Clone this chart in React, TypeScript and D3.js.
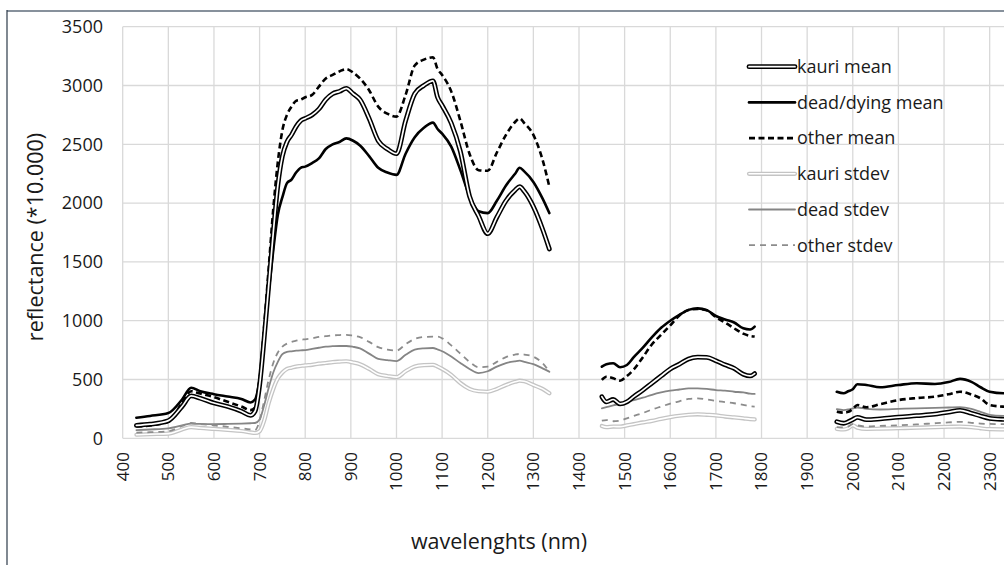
import React from "react";
import * as d3 from "d3";

// ---------- data ----------
const xGrid = [400, 500, 600, 700, 800, 900, 1000, 1100, 1200, 1300, 1400, 1500, 1600, 1700, 1800, 1900, 2000, 2100, 2200, 2300, 2400];
const xTickLabels = [400, 500, 600, 700, 800, 900, 1000, 1100, 1200, 1300, 1400, 1500, 1600, 1700, 1800, 1900, 2000, 2100, 2200, 2300];
const yTicks = [0, 500, 1000, 1500, 2000, 2500, 3000, 3500];

const wl1 = [430, 460, 500, 530, 550, 570, 600, 630, 660, 680, 690, 700, 710, 720, 730, 740, 750, 760, 770, 780, 790, 800, 815, 830, 845, 860, 875, 890, 905, 920, 940, 960, 980, 1000, 1020, 1040, 1060, 1080, 1090, 1100, 1120, 1140, 1160, 1180, 1200, 1220, 1240, 1260, 1270, 1280, 1300, 1320, 1335];
const wl2 = [1450, 1460, 1475, 1490, 1505, 1520, 1540, 1560, 1580, 1600, 1620, 1640, 1660, 1680, 1700, 1720, 1740, 1760, 1775, 1785];
const wl3 = [1965, 1980, 1990, 2000, 2010, 2030, 2060, 2100, 2140, 2180, 2210, 2235, 2260, 2280, 2300, 2330, 2360];

const kauriMean1 = [110, 120, 150, 270, 360, 340, 300, 270, 230, 195, 230, 450, 850, 1300, 1750, 2150, 2400, 2520, 2580, 2650, 2700, 2720, 2750, 2800, 2880, 2930, 2950, 2975, 2930, 2880, 2720, 2530, 2460, 2420, 2700, 2930, 3000, 3040, 2900, 2830, 2680, 2440, 2060, 1890, 1740, 1880, 2020, 2110, 2140, 2100, 1970, 1780, 1610];
const kauriMean2 = [354, 310, 330, 292, 310, 354, 410, 470, 530, 590, 630, 675, 690, 688, 660, 625, 595, 545, 530, 550];
const kauriMean3 = [141, 128, 140, 160, 178, 158, 165, 180, 192, 205, 222, 238, 213, 190, 170, 161, 158];

const deadMean1 = [175, 190, 215, 330, 430, 400, 375, 355, 335, 305, 330, 500, 850, 1250, 1600, 1900, 2050, 2170, 2200, 2260, 2300, 2310, 2340, 2380, 2460, 2500, 2520, 2550, 2530, 2490, 2400, 2300, 2260, 2240, 2420, 2560, 2640, 2684, 2630, 2590, 2480, 2280, 2060, 1930, 1915, 2020, 2150, 2250, 2300, 2270, 2180, 2040, 1915];
const deadMean2 = [609, 630, 638, 604, 623, 690, 770, 860, 940, 1000, 1050, 1092, 1105, 1090, 1040, 1010, 985, 935, 925, 950];
const deadMean3 = [396, 383, 400, 417, 460, 453, 434, 453, 468, 462, 478, 505, 480, 434, 396, 383, 390];

const otherMean1 = [100, 110, 140, 300, 400, 380, 350, 310, 270, 240, 260, 500, 950, 1450, 1950, 2350, 2620, 2750, 2820, 2870, 2880, 2900, 2920, 2990, 3060, 3090, 3120, 3140, 3110, 3060, 2960, 2820, 2760, 2735, 2920, 3170, 3220, 3240, 3140, 3090, 2950, 2700, 2420, 2280, 2275, 2430, 2580, 2690, 2720, 2680, 2580, 2370, 2140];
const otherMean2 = [496, 524, 510, 490, 530, 585, 690, 800, 880, 960, 1045, 1090, 1100, 1088, 1030, 985, 935, 890, 870, 865];
const otherMean3 = [226, 218, 225, 250, 283, 264, 290, 325, 342, 354, 375, 396, 372, 340, 283, 269, 265];

const kauriStdev1 = [30, 35, 40, 75, 95, 88, 80, 72, 62, 50, 45, 60, 150, 300, 420, 510, 560, 590, 600, 610, 615, 620, 625, 635, 640, 648, 652, 655, 645, 630, 590, 545, 530, 520, 570, 610, 622, 625, 610, 590, 540, 470, 420, 400, 396, 420, 453, 480, 490, 485, 453, 420, 383];
const kauriStdev2 = [105, 95, 100, 99, 110, 120, 135, 148, 165, 180, 192, 200, 204, 200, 195, 185, 178, 170, 163, 161];
const kauriStdev3 = [80, 75, 85, 110, 90, 80, 82, 86, 90, 95, 98, 100, 95, 85, 78, 76, 75];

const deadStdev1 = [70, 75, 85, 110, 125, 122, 120, 122, 125, 128, 130, 160, 280, 430, 560, 650, 715, 735, 740, 745, 748, 750, 760, 770, 780, 783, 785, 785, 778, 765, 720, 675, 665, 657, 710, 755, 765, 768, 755, 740, 695, 640, 590, 555, 570, 610, 640, 655, 660, 650, 630, 595, 566];
const deadStdev2 = [255, 265, 280, 292, 310, 325, 345, 370, 390, 405, 415, 425, 425, 420, 410, 405, 396, 390, 380, 377];
const deadStdev3 = [247, 240, 245, 255, 262, 250, 245, 250, 255, 258, 262, 265, 250, 225, 200, 190, 188];

const otherStdev1 = [48, 52, 60, 105, 130, 122, 110, 98, 85, 75, 70, 150, 320, 500, 640, 730, 780, 805, 820, 830, 838, 842, 850, 862, 868, 875, 878, 880, 872, 860, 820, 775, 755, 745, 800, 845, 862, 864, 864, 850, 790, 720, 650, 605, 610, 650, 690, 712, 717, 712, 694, 640, 566];
const otherStdev2 = [150, 155, 145, 150, 170, 190, 215, 245, 270, 295, 315, 335, 340, 330, 318, 308, 298, 285, 272, 269];
const otherStdev3 = [95, 92, 100, 120, 110, 100, 105, 110, 118, 128, 135, 140, 132, 125, 122, 120, 118];

const legendNames = ["kauri mean", "dead/dying mean", "other mean", "kauri stdev", "dead stdev", "other stdev"];

// ---------- styles ----------
type Style = { color: string; width: number; dash?: string; inner?: number };
const styles: Style[] = [
  { color: "#000", width: 4.8, inner: 1.7 },
  { color: "#000", width: 2.6 },
  { color: "#000", width: 2.6, dash: "6,3.5" },
  { color: "#c4c4c4", width: 4.2, inner: 1.6 },
  { color: "#858585", width: 1.8 },
  { color: "#8c8c8c", width: 1.8, dash: "6,5" },
];

const segWl = [wl1, wl2, wl3];
const seriesData = [
  [kauriMean1, kauriMean2, kauriMean3],
  [deadMean1, deadMean2, deadMean3],
  [otherMean1, otherMean2, otherMean3],
  [kauriStdev1, kauriStdev2, kauriStdev3],
  [deadStdev1, deadStdev2, deadStdev3],
  [otherStdev1, otherStdev2, otherStdev3],
];

const W = 1004;
const H = 565;
const FONT = "'Open Sans', sans-serif";

export default function App() {
  const x = d3.scaleLinear().domain([400, 2400]).range([122.7, 1035.3]);
  const y = d3.scaleLinear().domain([0, 3500]).range([438.3, 26.7]);
  const line = d3
    .line<[number, number]>()
    .x((d) => x(d[0]))
    .y((d) => y(d[1]))
    .curve(d3.curveMonotoneX);

  const paths = (si: number) =>
    segWl.map((wl, k) => line(wl.map((w, i) => [w, seriesData[si][k][i]] as [number, number])) || "");

  const drawOrder = [3, 4, 5, 2, 1, 0];

  const renderStyled = (d: string, s: Style, key: string) => (
    <g key={key}>
      <path d={d} fill="none" stroke={s.color} strokeWidth={s.width} strokeDasharray={s.dash} strokeLinejoin="round" strokeLinecap={s.dash ? "butt" : "round"} />
      {s.inner ? <path d={d} fill="none" stroke="#fff" strokeWidth={s.inner} strokeLinejoin="round" strokeLinecap="round" /> : null}
    </g>
  );

  const legendX0 = 749;
  const legendX1 = 795;
  const legendY0 = 66.7;
  const legendDy = 35.7;

  return (
    <svg width={W} height={H} style={{ position: "absolute", left: 0, top: 0, background: "#fff" }} fontFamily={FONT}>
      <rect x={0} y={0} width={W} height={H} fill="#fff" />
      {/* frame */}
      <line x1={7} x2={W} y1={11} y2={11} stroke="#87919c" strokeWidth={2} />
      <line x1={7} x2={7} y1={10} y2={H} stroke="#2c3a48" strokeWidth={1.2} />

      {/* grid */}
      {xGrid.map((t) => (
        <line key={"gx" + t} x1={x(t)} x2={x(t)} y1={y(3500)} y2={y(0)} stroke="#d9d9d9" strokeWidth={1.3} />
      ))}
      {yTicks.map((t) => (
        <line key={"gy" + t} x1={x(400)} x2={W} y1={y(t)} y2={y(t)} stroke="#d9d9d9" strokeWidth={1.3} />
      ))}

      {/* y tick labels */}
      {yTicks.map((t) => (
        <text key={"ty" + t} x={103} y={y(t)} dy="0.35em" textAnchor="end" fontSize={18} fill="#1a1a1a">
          {t}
        </text>
      ))}
      {/* x tick labels */}
      {xTickLabels.map((t) => (
        <text
          key={"tx" + t}
          transform={`translate(${x(t)},452) rotate(-90)`}
          textAnchor="end"
          dy="0.35em"
          fontSize={17}
          fill="#1a1a1a"
        >
          {t}
        </text>
      ))}

      {/* axis titles */}
      <text transform="translate(35,237) rotate(-90)" textAnchor="middle" dy="0.35em" fontSize={21.5} fill="#1a1a1a">
        reflectance (*10.000)
      </text>
      <text x={499} y={541} textAnchor="middle" dy="0.35em" fontSize={21.5} fill="#1a1a1a">
        wavelenghts (nm)
      </text>

      {/* series */}
      {drawOrder.map((si) => paths(si).map((d, k) => renderStyled(d, styles[si], `s${si}-${k}`)))}

      {/* legend */}
      {legendNames.map((name, i) => {
        const ly = legendY0 + i * legendDy;
        return (
          <g key={"lg" + i}>
            {renderStyled(`M${legendX0},${ly}L${legendX1},${ly}`, styles[i], "lgl" + i)}
            <text x={legendX1 + 2} y={ly} dy="0.35em" fontSize={18} fill="#1a1a1a">
              {name}
            </text>
          </g>
        );
      })}
    </svg>
  );
}
